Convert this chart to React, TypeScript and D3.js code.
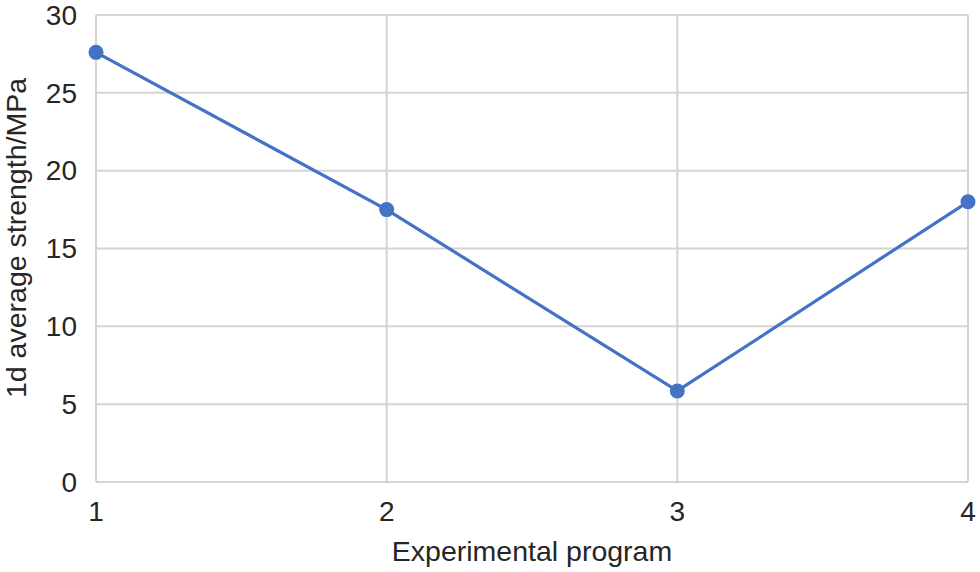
import React from "react";
import * as d3 from "d3";

const programs = [1, 2, 3, 4];
const strength = [27.6, 17.5, 5.85, 18.0];
const yTicks = [0, 5, 10, 15, 20, 25, 30];
const xTicks = [1, 2, 3, 4];

const W = 980;
const H = 572;
const M = { left: 96, right: 12, top: 15, bottom: 90 };

export default function App() {
  const x = d3.scaleLinear().domain([1, 4]).range([M.left, W - M.right]);
  const y = d3.scaleLinear().domain([0, 30]).range([H - M.bottom, M.top]);
  const data = programs.map((p, i) => ({ p, v: strength[i] }));
  const line = d3
    .line<{ p: number; v: number }>()
    .x((d) => x(d.p))
    .y((d) => y(d.v));
  const font = "'Liberation Sans', Arial, sans-serif";
  const textColor = "#262626";
  const grid = "#d4d4d4";
  const blue = "#4472C4";
  return (
    <div style={{ position: "absolute", left: 0, top: 0 }}>
      <svg width={W} height={H} style={{ display: "block", background: "#fff" }}>
        {yTicks.map((t) => (
          <line key={"gy" + t} x1={x(1)} x2={x(4)} y1={y(t)} y2={y(t)} stroke={grid} strokeWidth={2} />
        ))}
        {xTicks.map((t) => (
          <line key={"gx" + t} x1={x(t)} x2={x(t)} y1={y(0)} y2={y(30)} stroke={grid} strokeWidth={2} />
        ))}
        {yTicks.map((t) => (
          <text key={"ly" + t} x={77} y={y(t)} dy="0.35em" textAnchor="end" fontFamily={font} fontSize={28} fill={textColor}>
            {t}
          </text>
        ))}
        {xTicks.map((t) => (
          <text key={"lx" + t} x={x(t)} y={521} textAnchor="middle" fontFamily={font} fontSize={28} fill={textColor}>
            {t}
          </text>
        ))}
        <path d={line(data) || ""} fill="none" stroke={blue} strokeWidth={3.2} />
        {data.map((d) => (
          <circle key={"c" + d.p} cx={x(d.p)} cy={y(d.v)} r={7.5} fill={blue} />
        ))}
        <text x={532} y={561} textAnchor="middle" fontFamily={font} fontSize={28.5} fill={textColor}>
          Experimental program
        </text>
        <text
          transform={`translate(26, 238) rotate(-90)`}
          textAnchor="middle"
          fontFamily={font}
          fontSize={28.5}
          fill={textColor}
        >
          1d average strength/MPa
        </text>
      </svg>
    </div>
  );
}
